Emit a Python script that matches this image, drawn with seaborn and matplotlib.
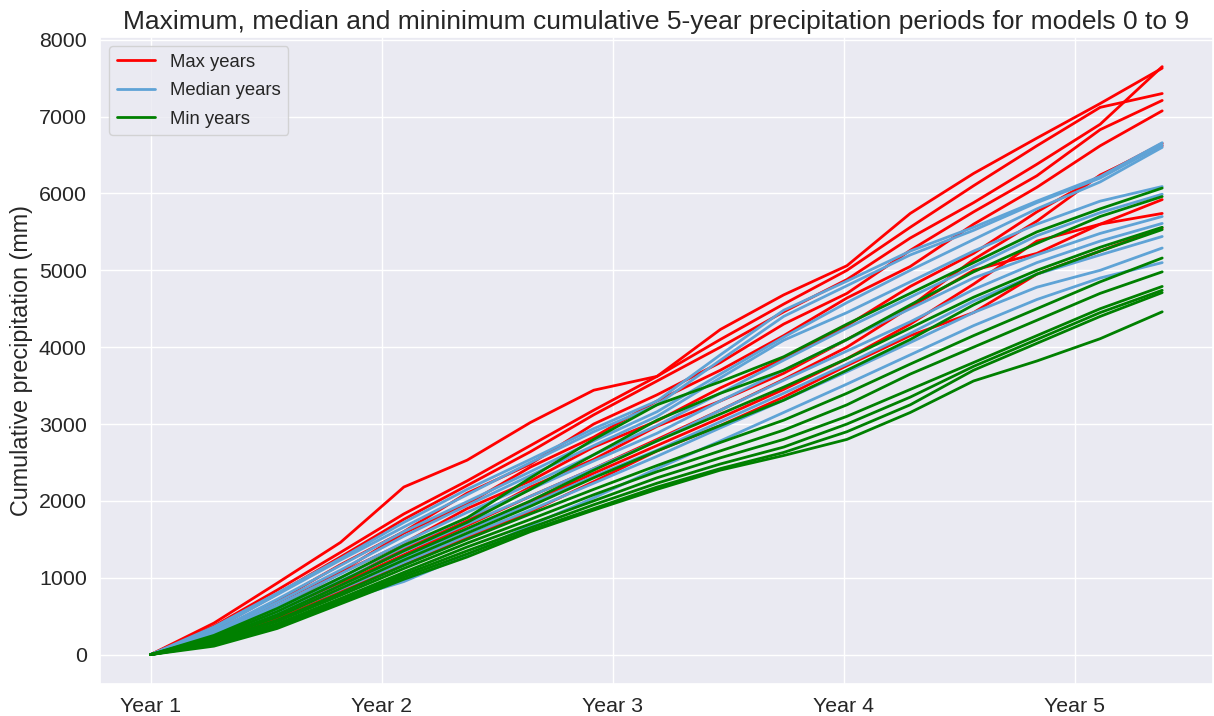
import numpy as np
import pandas as pd
import matplotlib
matplotlib.use('Agg')
import matplotlib.pyplot as plt
import seaborn as sns

# day index of each sampled point (year ticks every 365 days)
days = [0, 100, 200, 300, 400, 500, 600, 700, 800, 900, 1000,
        1100, 1200, 1300, 1400, 1500, 1598]

# Max years, one list per model (cumulative mm)
max_years = [
    [0, 410, 930, 1460, 2180, 2530, 3020, 3440, 3620, 4230, 4680, 5060, 5740, 6260, 6720, 7170, 7630],
    [0, 330, 790, 1270, 1760, 2200, 2640, 3120, 3560, 4000, 4460, 4880, 5420, 5880, 6380, 6900, 7650],
    [0, 370, 840, 1330, 1830, 2260, 2720, 3180, 3620, 4100, 4560, 5000, 5560, 6100, 6620, 7120, 7300],
    [0, 300, 700, 1170, 1600, 2100, 2480, 3000, 3380, 3800, 4300, 4700, 5260, 5760, 6230, 6830, 7210],
    [0, 280, 680, 1080, 1580, 1960, 2440, 2830, 3300, 3700, 4150, 4640, 5050, 5600, 6080, 6620, 7075],
    [0, 260, 620, 1060, 1450, 1900, 2260, 2700, 3040, 3470, 3850, 4280, 4790, 5220, 5760, 6230, 6650],
    [0, 240, 570, 940, 1380, 1740, 2180, 2540, 2970, 3300, 3660, 4100, 4530, 5140, 5640, 6240, 6620],
    [0, 220, 520, 900, 1280, 1620, 1980, 2360, 2720, 3080, 3450, 3850, 4300, 4820, 5380, 5600, 5920],
    [0, 230, 540, 920, 1300, 1680, 2060, 2420, 2800, 3180, 3580, 4000, 4520, 5000, 5220, 5600, 5740],
    [0, 200, 480, 830, 1180, 1520, 1860, 2250, 2650, 2980, 3350, 3760, 4150, 4450, 4950, 5250, 5550],
]

# Median years
median_years = [
    [0, 360, 800, 1250, 1720, 2150, 2540, 2940, 3300, 3900, 4480, 4860, 5250, 5560, 5900, 6220, 6660],
    [0, 330, 780, 1230, 1660, 2080, 2500, 2900, 3250, 3830, 4400, 4800, 5200, 5520, 5880, 6200, 6630],
    [0, 300, 720, 1160, 1600, 1990, 2380, 2780, 3160, 3650, 4130, 4580, 5000, 5400, 5800, 6150, 6600],
    [0, 290, 680, 1100, 1540, 1940, 2330, 2720, 3100, 3600, 4090, 4450, 4850, 5250, 5600, 5900, 6090],
    [0, 270, 640, 1050, 1460, 1850, 2220, 2600, 2980, 3400, 3830, 4250, 4650, 5050, 5450, 5750, 5990],
    [0, 260, 610, 1000, 1400, 1780, 2150, 2520, 2880, 3300, 3700, 4100, 4500, 4900, 5200, 5480, 5700],
    [0, 250, 580, 960, 1340, 1700, 2060, 2420, 2780, 3180, 3570, 3950, 4330, 4750, 5100, 5380, 5610],
    [0, 230, 540, 900, 1260, 1620, 1960, 2320, 2660, 3030, 3400, 3780, 4180, 4600, 4950, 5200, 5440],
    [0, 210, 500, 850, 1200, 1550, 1880, 2230, 2580, 2950, 3310, 3680, 4060, 4450, 4780, 5000, 5290],
    [0, 150, 380, 700, 950, 1300, 1680, 2040, 2420, 2780, 3150, 3520, 3900, 4280, 4620, 4900, 5100],
]

# Min years
min_years = [
    [0, 250, 600, 1000, 1420, 1780, 2300, 2800, 3250, 3550, 3875, 4300, 4700, 5100, 5500, 5800, 6070],
    [0, 230, 560, 950, 1350, 1720, 2150, 2600, 3050, 3400, 3700, 4100, 4550, 4980, 5350, 5700, 5960],
    [0, 210, 520, 900, 1280, 1640, 2000, 2400, 2780, 3130, 3480, 3850, 4250, 4650, 5000, 5300, 5560],
    [0, 200, 490, 860, 1230, 1580, 1930, 2300, 2650, 2980, 3310, 3700, 4100, 4550, 4950, 5250, 5530],
    [0, 180, 450, 800, 1160, 1500, 1830, 2150, 2460, 2760, 3050, 3400, 3780, 4150, 4500, 4850, 5160],
    [0, 170, 430, 770, 1120, 1450, 1760, 2080, 2380, 2650, 2920, 3250, 3650, 4000, 4350, 4700, 4980],
    [0, 150, 400, 730, 1070, 1400, 1700, 2000, 2300, 2560, 2800, 3100, 3450, 3800, 4150, 4500, 4790],
    [0, 140, 380, 700, 1040, 1350, 1650, 1950, 2230, 2480, 2700, 3000, 3350, 3750, 4100, 4450, 4740],
    [0, 130, 360, 680, 1010, 1310, 1620, 1900, 2180, 2420, 2630, 2900, 3250, 3700, 4050, 4400, 4710],
    [0, 110, 340, 660, 980, 1270, 1600, 1880, 2150, 2400, 2590, 2800, 3150, 3560, 3820, 4110, 4460],
]

year_ticks = [0, 365, 730, 1095, 1460]
year_labels = ['Year 1', 'Year 2', 'Year 3', 'Year 4', 'Year 5']

groups = {'Max years': max_years, 'Median years': median_years, 'Min years': min_years}
palette = {'Max years': 'red', 'Median years': '#5fa3d6', 'Min years': 'green'}

rows = []
for name, runs in groups.items():
    for i, run in enumerate(runs):
        for d, v in zip(days, run):
            rows.append({'day': d, 'precip': v, 'kind': name, 'model': '{}_{}'.format(name, i)})
df = pd.DataFrame(rows)

sns.set_theme(style='darkgrid', font_scale=1.4)
plt.rcParams['font.family'] = ['Liberation Sans', 'DejaVu Sans']

fig, ax = plt.subplots(figsize=(12.14, 7.16), dpi=100)
fig.subplots_adjust(left=0.0824, right=0.999, top=0.948, bottom=0.0447)

sns.lineplot(data=df, x='day', y='precip', hue='kind', units='model', estimator=None,
             palette=palette, linewidth=2, ax=ax, sort=False)

sns.move_legend(ax, 'upper left', title=None, fontsize=13.3,
                labelspacing=0.62, handlelength=2.1)
ax.set_xticks(year_ticks)
ax.set_xticklabels(year_labels)
ax.set_xlabel('')
ax.set_ylabel('Cumulative precipitation (mm)')
ax.set_title('Maximum, median and mininimum cumulative 5-year precipitation periods for models 0 to 9',
             fontsize=19)

fig.savefig('out.png', dpi=100)
